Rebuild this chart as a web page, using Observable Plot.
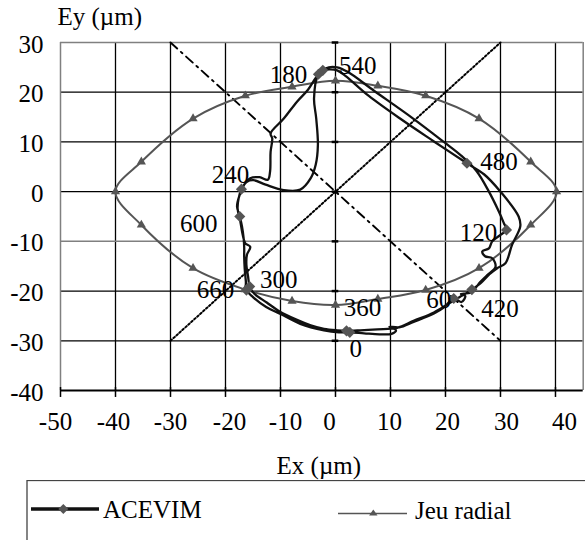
<!DOCTYPE html>
<html>
<head>
<meta charset="utf-8">
<script src="https://cdn.jsdelivr.net/npm/d3@7"></script>
<script src="https://cdn.jsdelivr.net/npm/@observablehq/plot@0.6"></script>
<style>
  html, body { margin: 0; padding: 0; background: #fff; overflow: hidden; }
  body { width: 585px; height: 540px; position: relative; font-family: 'Liberation Serif', serif; }
  #chart { position: absolute; left: 0; top: 0; }
  #legend { position: absolute; left: 0; top: 480px; }
</style>
</head>
<body>
<div id="chart"></div>
<svg id="legend" width="585" height="60"></svg>
<script>
// ---- data ----
const xTicks = [-50, -40, -30, -20, -10, 0, 10, 20, 30, 40];
const yTicks = [-40, -30, -20, -10, 0, 10, 20, 30];

// Jeu radial (clearance circle), closed loop
const jeuX = [40.2, 35.5, 26.1, 16.4, 7.7, 0, -7.9, -16.4, -25.9, -35.3, -40, -35.3, -25.9, -16.4, -7.9, 0, 7.7, 16.4, 26.1, 35.5];
const jeuY = [0, 6.0, 14.7, 19.3, 21.3, 22.3, 21.1, 19.3, 14.7, 6.0, 0, -6.7, -15.4, -19.7, -22.0, -22.8, -21.6, -19.8, -15.4, -6.7];

// ACEVIM orbit (0 -> 720 deg), closed loop
const acevimX = [2.6, 5.2, 8.0, 10.2, 11.0, 9.8, 11.6, 14.2, 17.9, 19.8,
  21.5, 22.9, 23.6, 22.8, 24.6, 26.4, 27.6, 29.1, 28.5, 27.2, 26.7, 27.9, 28.5, 30.0,
  31.1, 30.6, 29.7, 27.9, 25.6, 22.8, 19.7, 14.0, 7.0, 2.2, 0.3, -1.2,
  -3.1, -3.9, -3.5, -3.2, -3.6, -4.5, -6.4, -9.4, -12.7, -14.9, -16.1,
  -17.1, -17.6, -17.8, -17.3, -16.9, -16.4, -15.5, -16.1, -16.2, -15.9,
  -15.6, -14.8, -12.5, -10.3, -7.0, -4.5, -2.1, 0.3,
  2.0, 4.5, 7.6, 11.2, 14.2, 17.9, 20.6, 22.6,
  24.8, 26.4, 28.0, 29.4, 30.9, 32.1, 33.6, 33.3, 30.0, 27.0,
  23.9, 17.9, 12.0, 6.0, 1.8, 0.3, -0.9,
  -2.3, -3.5, -5.0, -7.0, -9.4, -11.8, -11.5, -11.8, -11.9, -12.3, -13.8, -15.5, -16.6, -17.4, -17.9,
  -17.4, -17.0, -16.7, -16.6, -16.6, -16.5, -16.3,
  -16.2, -15.0, -12.6, -10.0, -6.4, -2.1, 0.6];
const acevimY = [-28.3, -28.5, -28.7, -28.6, -27.9, -27.2, -27.3, -26.2, -24.5, -23.2,
  -21.5, -22.2, -21.0, -20.6, -20.3, -18.1, -16.8, -15.1, -13.4, -13.0, -12.0, -11.4, -10.0, -8.7,
  -7.7, -6.3, -4.0, 0.0, 4.2, 7.3, 10.0, 14.8, 20.3, 24.1, 25.0, 25.0,
  23.6, 18.8, 14.7, 9.4, 5.4, 2.7, 0.4, 0.3, 1.4, 2.3, 2.0,
  0.5, -1.3, -3.4, -6.0, -8.5, -10.4, -11.1, -12.7, -14.7, -17.0,
  -19.1, -20.5, -22.3, -24.0, -25.8, -26.9, -27.6, -27.9,
  -28.0, -27.9, -27.7, -27.4, -26.0, -24.3, -22.5, -21.2,
  -19.7, -18.4, -16.6, -15.4, -14.4, -10.7, -7.0, -5.0, 0.0, 3.5,
  5.7, 10.1, 14.5, 19.3, 23.3, 24.4, 24.6,
  24.4, 23.0, 20.5, 18.1, 14.7, 11.7, 10.7, 8.0, 4.0, 2.4, 2.9, 2.7, 1.4, -0.6, -3.0,
  -5.0, -7.0, -9.4, -11.2, -13.2, -15.6, -18.0,
  -19.8, -21.2, -23.2, -24.6, -26.6, -27.9, -28.3];

// crank-angle markers
const markLabels = ["0", "60", "120", "180", "240", "300", "360", "420", "480", "540", "600", "660"];
const markX = [2.6, 21.5, 31.1, -3.1, -17.1, -15.6, 2.0, 24.8, 23.9, -2.3, -17.4, -16.2];
const markY = [-28.3, -21.5, -7.7, 23.6, 0.5, -19.1, -28.0, -19.7, 5.7, 24.4, -5.0, -19.8];

// reference diagonals
const diagX = [-30, 30];
const diagUpY = [-30, 30];
const diagDownY = [30, -30];

// ---- layout (pixel offsets, styling only) ----
const labelOffsets = [[6, 17], [-15, 1], [-28, 3], [-30, 1], [-11, -14], [29, -7], [16, -23], [28, 19], [32, -1], [35, -4], [-41, 7], [-31, 0]];
const xLabelDx = [-5, -2, 0, 4, 5, -6, -1, 2, 6, 9];

const FONT = "Liberation Serif";
const GRAY = "#555";

const idx = (a) => a.map((_, i) => i);

const chart = Plot.plot({
  width: 585,
  height: 478,
  marginLeft: 60,
  marginRight: 2.3,
  marginTop: 42,
  marginBottom: 88,
  x: {domain: [-50, 45.04], axis: null},
  y: {domain: [-40, 30], axis: null},
  style: {fontFamily: FONT, fontSize: "25px", color: "#000", background: "#fff", overflow: "visible"},
  marks: [
    // grid
    Plot.ruleX(xTicks.filter(d => d !== -50), {stroke: "#000", strokeWidth: 1.3}),
    Plot.ruleY(yTicks.filter(d => d !== -10 && d !== 30 && d !== -40), {stroke: "#000", strokeWidth: 1.3}),
    Plot.ruleY([-10, 30], {stroke: "#808080", strokeWidth: 1.5}),
    Plot.ruleX([-50, 45.04], {stroke: "#808080", strokeWidth: 1.5}),
    // small tick marks on the x = 0 axis
    Plot.ruleY(yTicks.filter(d => d !== -40), {x1: -0.6, x2: 0.6, stroke: "#000", strokeWidth: 2.5}),
    // bottom axis line and ticks
    Plot.ruleY([-40], {stroke: "#000", strokeWidth: 2}),
    Plot.ruleX(xTicks, {y1: -39.4, y2: -41.4, stroke: "#000", strokeWidth: 1.5}),
    // diagonals
    Plot.line(idx(diagX), {x: i => diagX[i], y: i => diagUpY[i], stroke: "#000", strokeWidth: 2, strokeDasharray: "1.8,2.2"}),
    Plot.line(idx(diagX), {x: i => diagX[i], y: i => diagDownY[i], stroke: "#000", strokeWidth: 1.9, strokeDasharray: "9,5,2,5"}),
    // Jeu radial
    Plot.line(idx(jeuX), {x: i => jeuX[i], y: i => jeuY[i], stroke: GRAY, strokeWidth: 2, curve: "catmull-rom-closed"}),
    Plot.dot(idx(jeuX), {x: i => jeuX[i], y: i => jeuY[i], symbol: "triangle", r: 3.4, fill: GRAY, stroke: "none"}),
    // ACEVIM
    Plot.line(idx(acevimX), {x: i => acevimX[i], y: i => acevimY[i], stroke: "#111", strokeWidth: 2.3, curve: "catmull-rom-closed"}),
    Plot.dot(idx(markX), {x: i => markX[i], y: i => markY[i], symbol: "diamond2", r: 5, fill: GRAY, stroke: "none"}),
    // crank-angle labels
    ...markLabels.map((t, i) => Plot.text([i], {
      x: j => markX[j], y: j => markY[j], text: () => t,
      dx: labelOffsets[i][0], dy: labelOffsets[i][1],
      textAnchor: "middle", lineAnchor: "middle", fill: "#000", fontSize: 25
    })),
    // x tick labels
    ...xTicks.map((t, i) => Plot.text([t], {
      x: d => d, frameAnchor: "bottom", dy: 31, dx: xLabelDx[i], text: d => String(d),
      textAnchor: "middle", lineAnchor: "middle", fill: "#000", fontSize: 25
    })),
    // y tick labels
    Plot.text(yTicks, {y: d => d, frameAnchor: "left", dx: -17, dy: 2, text: d => String(d),
      textAnchor: "end", lineAnchor: "middle", fill: "#000", fontSize: 25}),
    // axis titles
    Plot.text(["Ey (µm)"], {frameAnchor: "top-left", dx: -3, dy: -26, text: d => d, textAnchor: "start", lineAnchor: "middle", fill: "#000", fontSize: 25}),
    Plot.text(["Ex (µm)"], {frameAnchor: "bottom", dx: -3, dy: 75, text: d => d, textAnchor: "middle", lineAnchor: "middle", fill: "#000", fontSize: 25})
  ]
});
document.getElementById("chart").appendChild(chart);

// ---- legend ----
const lg = d3.select("#legend");
lg.append("rect").attr("x", 27).attr("y", 0.5).attr("width", 620).attr("height", 100)
  .attr("fill", "none").attr("stroke", "#444").attr("stroke-width", 1.3);
lg.append("line").attr("x1", 31).attr("x2", 99).attr("y1", 29).attr("y2", 29)
  .attr("stroke", "#111").attr("stroke-width", 3.5);
lg.append("path").attr("d", "M63.3,24 L68.3,29 L63.3,34 L58.3,29 Z").attr("fill", GRAY);
lg.append("text").attr("x", 103).attr("y", 37.5).attr("font-family", FONT).attr("font-size", 25).text("ACEVIM");
lg.append("line").attr("x1", 338).attr("x2", 407).attr("y1", 33.5).attr("y2", 33.5)
  .attr("stroke", GRAY).attr("stroke-width", 1.5);
lg.append("path").attr("d", "M373.3,29.5 L377.5,35.5 L369.1,35.5 Z").attr("fill", GRAY);
lg.append("text").attr("x", 415).attr("y", 39).attr("font-family", FONT).attr("font-size", 25).text("Jeu radial");
</script>
</body>
</html>
